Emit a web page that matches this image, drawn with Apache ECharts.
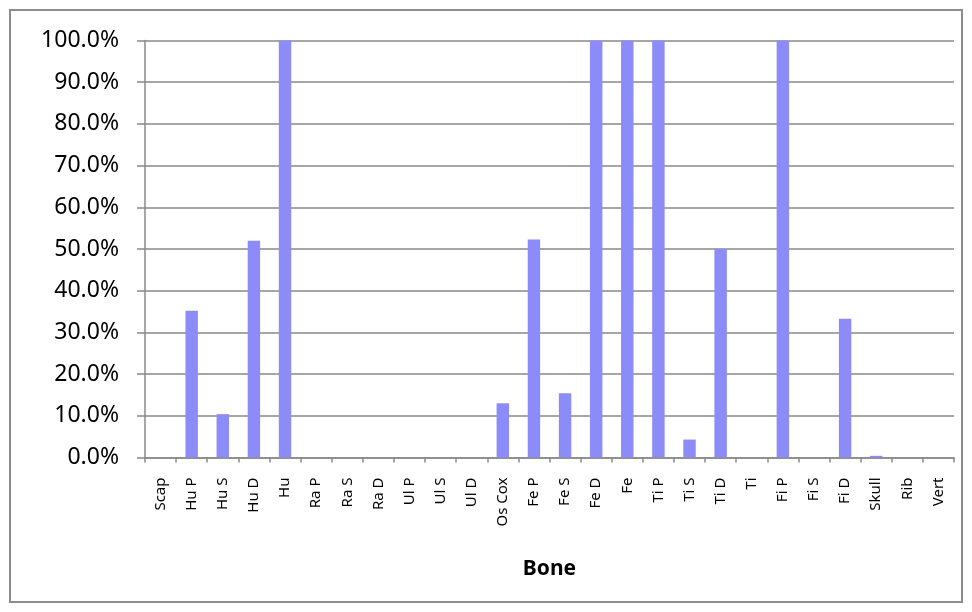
<!DOCTYPE html>
<html>
<head>
<meta charset="utf-8">
<script src="https://cdn.jsdelivr.net/npm/echarts@6/dist/echarts.min.js"></script>
<style>
  html, body { margin: 0; padding: 0; background: #fff; }
  #chart { width: 972px; height: 612px; }
</style>
</head>
<body>
<div id="chart"></div>
<script>
// bone elements and share (fraction)
const bones = ['Scap', 'Hu P', 'Hu S', 'Hu D', 'Hu', 'Ra P', 'Ra S', 'Ra D', 'Ul P', 'Ul S', 'Ul D',
  'Os Cox', 'Fe P', 'Fe S', 'Fe D', 'Fe', 'Ti P', 'Ti S', 'Ti D', 'Ti', 'Fi P', 'Fi S', 'Fi D',
  'Skull', 'Rib', 'Vert']
const shares = [0, 0.352, 0.104, 0.52, 1.0, 0, 0, 0, 0, 0, 0,
  0.13, 0.523, 0.154, 1.0, 1.0, 1.0, 0.043, 0.50, 0, 1.0, 0, 0.333,
  0.004, 0, 0]
const yTicks = { min: 0, max: 1, step: 0.1 }

const myEchart = echarts.init(document.getElementById('chart'))
const gridColor = '#898989'

const options = {
  animation: false,
  graphic: [
    {
      type: 'rect',
      shape: { x: 10, y: 10, width: 952, height: 592 },
      style: { fill: 'none', stroke: '#8c8c8c', lineWidth: 2 }
    }
  ],
  grid: {
    left: 145,
    right: 18,
    top: 40.5,
    bottom: 154.5
  },
  xAxis: {
    type: 'category',
    data: bones,
    name: 'Bone',
    nameLocation: 'middle',
    nameGap: 101,
    nameTextStyle: {
      fontFamily: 'Noto Sans',
      fontSize: 21,
      fontWeight: 'bold',
      color: '#000'
    },
    axisLine: { lineStyle: { color: gridColor, width: 1.5 } },
    axisTick: { show: true, length: 5, lineStyle: { color: gridColor, width: 1.5 } },
    axisLabel: {
      interval: 0,
      rotate: 90,
      margin: 20,
      fontFamily: 'Noto Sans',
      fontSize: 15,
      color: '#000'
    }
  },
  yAxis: {
    type: 'value',
    min: yTicks.min,
    max: yTicks.max,
    interval: yTicks.step,
    axisLine: { show: true, lineStyle: { color: gridColor, width: 1.5 } },
    axisTick: { show: true, length: 8, lineStyle: { color: gridColor, width: 1.5 } },
    splitLine: { show: true, lineStyle: { color: gridColor, width: 1.5 } },
    axisLabel: {
      margin: 26,
      fontFamily: 'Noto Sans',
      fontSize: 23,
      color: '#000',
      formatter: (v) => (v * 100).toFixed(1) + '%'
    }
  },
  series: [
    {
      type: 'bar',
      data: shares,
      barWidth: '40%',
      itemStyle: { color: '#8c8cf8' }
    }
  ]
}
myEchart.setOption(options)
</script>
</body>
</html>
